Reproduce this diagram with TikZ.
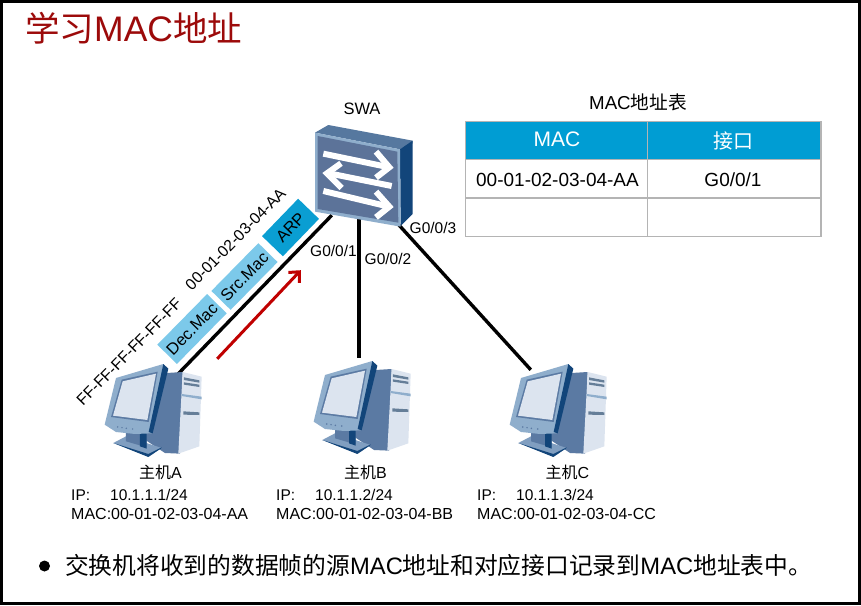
\documentclass[tikz,border=0pt]{standalone}
\usepackage{fontspec}
\setmainfont{Liberation Sans}
\newfontfamily\cjk{Noto Sans CJK SC}
\usetikzlibrary{arrows.meta}
\newcommand{\fs}[1]{\fontsize{#1pt}{#1pt}\selectfont}
\definecolor{titlered}{HTML}{9C0A0A}
\definecolor{arrowred}{HTML}{C00000}
\definecolor{lightblk}{HTML}{7CC9EA}
\definecolor{darkblk}{HTML}{0A9ED2}
\definecolor{headblue}{HTML}{009DD3}
\definecolor{gridgray}{HTML}{B4B4B4}
\definecolor{navy}{HTML}{12457A}
\definecolor{steel}{HTML}{5B7AA3}
\definecolor{frameblue}{HTML}{8FAECC}
\definecolor{pale}{HTML}{DCE4EF}
\definecolor{slot}{HTML}{7F9DBE}
\definecolor{swface}{HTML}{5C7399}
\definecolor{swtop}{HTML}{56789F}
\tikzset{
  wire/.style={line width=3.4pt,black},
  blockl/.style={fill=lightblk,rotate=45.5,inner sep=0pt,text=black},
  blockd/.style={fill=darkblk,rotate=46,inner sep=0pt,text=black},
  rot/.style={rotate=45.5,inner sep=0pt,font=\fs{15.8}},
  port/.style={inner sep=0pt,font=\fs{15.5}},
  info/.style={inner sep=0pt,anchor=base west,font=\fs{16}},
  ipinfo/.style={inner sep=0pt,anchor=base west,font=\fs{15.5}},
  hostname/.style={inner sep=0pt,font=\fs{16}},
  anchorpt/.style={inner sep=0pt,minimum size=0pt},
  cell/.style={inner sep=0pt,font=\fs{19}},
  headcell/.style={inner sep=0pt,font=\fs{21},text=white},
}
\newcommand{\hosticon}[2]{%
\begin{scope}[shift={(#1,#2)},x=0.3333pt,y=-0.3333pt]
  \fill[steel] (200,45) -- (248,42) -- (240,287) -- (195,285) -- (120,235) -- cycle;
  \fill[pale] (248,42) -- (305,56) -- (298,265) -- (235,287) -- cycle;
  \fill[frameblue] (245,108) -- (305,116) -- (305,124) -- (245,114) -- cycle;
  \fill[slot!80!black] (252,58) -- (298,67) -- (298,74) -- (252,66) -- cycle;
  \fill[slot!80!black] (252,73) -- (298,80) -- (298,87) -- (252,80) -- cycle;
  \fill[slot!80!black] (250,160) -- (298,163) -- (298,171) -- (250,170) -- cycle;
  \fill[frameblue!70!steel] (40,255) -- (78,235) -- (185,270) -- (145,295) -- cycle;
  \fill[steel] (78,222) -- (140,222) -- (140,268) -- (78,250) -- cycle;
  \fill[navy] (120,224) -- (140,224) -- (140,272) -- (120,265) -- cycle;
  \fill[navy] (40,255) -- (145,288) -- (185,268) -- (185,270) -- (145,297) -- cycle;
  \fill[frameblue] (48,60) -- (190,18) -- (200,30) -- (155,226) -- (105,228) -- (48,222) -- (14,200) -- cycle;
  \fill[navy] (190,18) -- (205,32) -- (158,226) -- (146,222) -- cycle;
  \fill[steel] (65,65) -- (173,41) -- (146,192) -- (33,177) -- cycle;
  \fill[pale] (68,70) -- (168,47) -- (142,186) -- (39,173) -- cycle;
  \foreach \px/\py in {53/207,66/209,79/211,98/213}
    \fill[steel] (\px,\py) circle (2.5);
\end{scope}}
\begin{document}
\begin{tikzpicture}[x=1pt,y=-1pt]
\useasboundingbox (0,0) rectangle (861,605);
\fill[white] (0,0) rectangle (861,605);
\draw[black,line width=3.4pt] (1.2,1.7) rectangle (859.3,603.3);

\node[inner sep=0pt,anchor=base west,text=titlered,font=\fs{35.5}] (title) at (25,41) {{\fs{34.5}\cjk 学习}MAC{\fs{34.5}\cjk 地址}};

% connector ends
\node[anchorpt] (swa1) at (332,215) {};
\node[anchorpt] (swa2) at (359,212) {};
\node[anchorpt] (swa3) at (398,224) {};
\node[anchorpt] (hosta) at (178,374) {};
\node[anchorpt] (hostb) at (359,358) {};
\node[anchorpt] (hostc) at (531,370) {};
\draw[wire] (swa1) -- (hosta);
\draw[wire] (swa2) -- (hostb);
\draw[wire] (swa3) -- (hostc);

% switch
\begin{scope}[shift={(300,110)},x=0.3333pt,y=-0.3333pt]
  \fill[swtop] (45,68) -- (85,45) -- (338,92) -- (338,100) -- (300,118) -- cycle;
  \fill[navy] (300,118) -- (338,92) -- (338,312) -- (302,348) -- cycle;
  \fill[frameblue] (45,68) -- (300,118) -- (302,350) -- (45,305) -- cycle;
  \fill[swface] (53,78) -- (292,125) -- (295,338) -- (53,297) -- cycle;
  \begin{scope}[white,line width=6pt,miter limit=10]
    \draw (70,131) -- (258,170);
    \draw (228,125) -- (268,172) -- (228,203);
    \draw (275,228) -- (92,191);
    \draw (123,160) -- (81,190) -- (125,234);
    \draw (70,243) -- (258,288);
    \draw (228,245) -- (268,290) -- (228,322);
  \end{scope}
\end{scope}
\node[anchorpt,font=\fs{16.5}] (swa) at (362,109) {SWA};

% hosts
\hosticon{100}{358}
\hosticon{309}{355}
\hosticon{505}{358}

% frame blocks
\node[blockl,minimum width=71pt,minimum height=27.5pt,font=\fs{16.5}] (dec) at (192,329) {Dec.Mac};
\node[blockl,minimum width=67pt,minimum height=27pt,font=\fs{16.5}] (src) at (244.5,276.5) {Src.Mac};
\node[blockd,minimum width=52pt,minimum height=29pt,font=\fs{16.5}] (arp) at (290.5,227.5) {ARP};
\node[rot] (dstmac) at (129,352) {FF-FF-FF-FF-FF-FF};
\node[rot] (srcmac) at (235.5,239) {00-01-02-03-04-AA};

% red arrow
\node[anchorpt] (flows) at (217,359) {};
\node[anchorpt] (flowe) at (301,270) {};
\draw[arrowred,line width=3pt,-{Straight Barb[length=8pt,width=15pt]}] (flows) -- (flowe);

% port labels
\node[port] (g1) at (333.5,251) {G0/0/1};
\node[port] (g2) at (388,259) {G0/0/2};
\node[port] (g3) at (433,228) {G0/0/3};

% table
\node[inner sep=0pt,font=\fs{18.7}] (tabt) at (638,102) {MAC{\cjk 地址表}};
\fill[headblue] (465.5,121.5) rectangle (821,159.5);
\draw[gridgray,line width=1.1pt] (465.5,121.5) rectangle (821,236.5);
\draw[gridgray,line width=1.1pt] (465.5,159.5) -- (821,159.5);
\draw[gridgray,line width=1.1pt] (465.5,198) -- (821,198);
\draw[gridgray,line width=1.1pt] (647.5,121.5) -- (647.5,236.5);
\node[headcell] (h1) at (557,139.5) {MAC};
\node[headcell,font=\fs{20}] (h2) at (733,141) {\cjk 接口};
\node[cell] (c1) at (557.5,180) {00-01-02-03-04-AA};
\node[cell] (c2) at (733,180) {G0/0/1};

% host labels
\node[hostname] (na) at (160.5,472) {{\cjk 主机}A};
\node[hostname] (nb) at (365.5,472) {{\cjk 主机}B};
\node[hostname] (nc) at (567.5,472) {{\cjk 主机}C};
\node[ipinfo] (ipa) at (71,500) {IP:};
\node[ipinfo] (ipav) at (110,500) {10.1.1.1/24};
\node[info] (maca) at (71,519) {MAC:00-01-02-03-04-AA};
\node[ipinfo] (ipb) at (276,500) {IP:};
\node[ipinfo] (ipbv) at (315,500) {10.1.1.2/24};
\node[info] (macb) at (276,519) {MAC:00-01-02-03-04-BB};
\node[ipinfo] (ipc) at (477,500) {IP:};
\node[ipinfo] (ipcv) at (516,500) {10.1.1.3/24};
\node[info] (macc) at (477,519) {MAC:00-01-02-03-04-CC};

% bottom line
\fill[black] (44.5,566) circle (5.5);
\node[inner sep=0pt,anchor=base west,font=\fs{23.75}] (note) at (65,574) {{\cjk 交换机将收到的数据帧的源}MAC{\cjk 地址和对应接口记录到}MAC{\cjk 地址表中。}};
\end{tikzpicture}
\end{document}
